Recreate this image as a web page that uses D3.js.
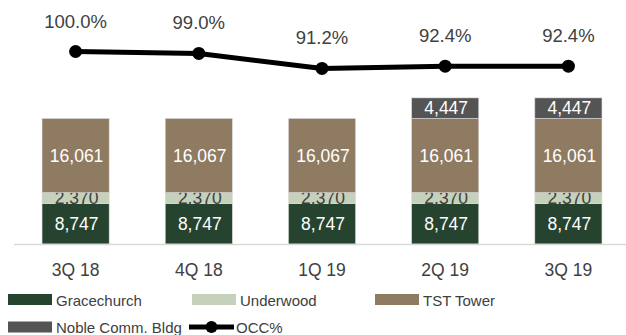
<!DOCTYPE html>
<html>
<head>
<meta charset="utf-8">
<script src="https://cdn.jsdelivr.net/npm/d3@7"></script>
<style>
  html, body { margin: 0; padding: 0; background: #fff; }
  svg { display: block; font-family: "Liberation Sans", Arial, sans-serif; }
</style>
</head>
<body>
<svg id="chart" width="626" height="335"></svg>
<script>
// ==================================
// Data
// ==================================
const quarters = ["3Q 18", "4Q 18", "1Q 19", "2Q 19", "3Q 19"];
const gracechurch = [8747, 8747, 8747, 8747, 8747];
const underwood = [2370, 2370, 2370, 2370, 2370];
const tstTower = [16061, 16067, 16067, 16061, 16061];
const noble = [0, 0, 0, 4447, 4447];
const occ = [1.0, 0.99, 0.912, 0.924, 0.924];

const seriesNames = ["Gracechurch", "Underwood", "TST Tower", "Noble Comm. Bldg"];
const seriesValues = [gracechurch, underwood, tstTower, noble];
const seriesColors = ["#264330", "#c5d1bb", "#8f7b61", "#545454"];
const labelColors = ["#ffffff", "#404040", "#ffffff", "#ffffff"];

const textColor = "#404040";

// ==================================
// Setting the Stage
// ==================================
const svg = d3.select("#chart");
const plot = { left: 14, right: 630, top: 13, bottom: 244 };

const x = d3.scaleBand()
  .domain(quarters)
  .range([plot.left, plot.right])
  .paddingInner(0.455)
  .paddingOuter(0.2275);

const y = d3.scaleLinear()
  .domain([0, 50000])
  .range([plot.bottom, plot.top]);

// secondary axis for occupancy
const yOcc = d3.scaleLinear()
  .domain([0, 1.2])
  .range([plot.bottom, plot.top]);

// build the stack table from the arrays
const table = quarters.map((q, i) => {
  const row = { quarter: q };
  seriesNames.forEach((s, j) => { row[s] = seriesValues[j][i]; });
  return row;
});
const stacked = d3.stack().keys(seriesNames)(table);

// ==================================
// Bars
// ==================================
const layers = svg.append("g").selectAll("g")
  .data(stacked)
  .enter().append("g")
  .attr("fill", (d, i) => seriesColors[i]);

layers.selectAll("rect")
  .data(d => d.filter(p => p[1] - p[0] > 0))
  .enter().append("rect")
  .attr("x", d => x(d.data.quarter))
  .attr("width", x.bandwidth())
  .attr("y", d => y(d[1]))
  .attr("height", d => y(d[0]) - y(d[1]))
  .attr("stroke", "#dcdcdc")
  .attr("stroke-width", 0.6);

// value labels in each segment
layers.each(function (layer, i) {
  d3.select(this).selectAll("text")
    .data(layer.filter(p => p[1] - p[0] > 0))
    .enter().append("text")
    .attr("x", d => x(d.data.quarter) + x.bandwidth() / 2 + 1)
    .attr("y", d => (y(d[0]) + y(d[1])) / 2)
    .attr("dy", "0.36em")
    .attr("text-anchor", "middle")
    .attr("fill", labelColors[i])
    .style("font-size", "17.5px")
    .text(d => d3.format(",")(d[1] - d[0]));
});

// ==================================
// Axis (bottom)
// ==================================
svg.append("line")
  .attr("x1", plot.left)
  .attr("x2", 626)
  .attr("y1", plot.bottom + 0.5)
  .attr("y2", plot.bottom + 0.5)
  .attr("stroke", "#d9d9d9")
  .attr("stroke-width", 1.5);

const xAxis = svg.append("g")
  .attr("transform", `translate(0, ${plot.bottom})`)
  .call(d3.axisBottom(x).tickSize(0).tickPadding(20));
xAxis.select(".domain").remove();
xAxis.selectAll("text")
  .attr("fill", textColor)
  .style("font-size", "17.5px")
  .style("font-family", "'Liberation Sans', Arial, sans-serif");

// ==================================
// OCC% line
// ==================================
const occLine = d3.line()
  .x((d, i) => x(quarters[i]) + x.bandwidth() / 2)
  .y(d => yOcc(d));

svg.append("path")
  .datum(occ)
  .attr("d", occLine)
  .attr("fill", "none")
  .attr("stroke", "#000")
  .attr("stroke-width", 5)
  .attr("stroke-linejoin", "round");

svg.append("g").selectAll("circle")
  .data(occ)
  .enter().append("circle")
  .attr("cx", (d, i) => x(quarters[i]) + x.bandwidth() / 2)
  .attr("cy", d => yOcc(d))
  .attr("r", 6.5)
  .attr("fill", "#000");

svg.append("g").selectAll("text")
  .data(occ)
  .enter().append("text")
  .attr("x", (d, i) => x(quarters[i]) + x.bandwidth() / 2)
  .attr("y", d => yOcc(d) - 24)
  .attr("text-anchor", "middle")
  .attr("fill", textColor)
  .style("font-size", "18.5px")
  .text(d => d3.format(".1%")(d));

// ==================================
// Legend
// ==================================
const legendItems = [
  { name: seriesNames[0], color: seriesColors[0], type: "rect", x: 8, row: 0 },
  { name: seriesNames[1], color: seriesColors[1], type: "rect", x: 192, row: 0 },
  { name: seriesNames[2], color: seriesColors[2], type: "rect", x: 375, row: 0 },
  { name: seriesNames[3], color: seriesColors[3], type: "rect", x: 8, row: 1 },
  { name: "OCC%", color: "#000", type: "line", x: 189, row: 1 }
];

const legend = svg.append("g").selectAll("g")
  .data(legendItems)
  .enter().append("g")
  .attr("transform", d => `translate(${d.x}, ${294 + d.row * 27.5})`);

legend.filter(d => d.type === "rect").append("rect")
  .attr("width", 44)
  .attr("height", 11)
  .attr("fill", d => d.color);

legend.filter(d => d.type === "line").append("line")
  .attr("x1", 0).attr("x2", 45)
  .attr("y1", 5.5).attr("y2", 5.5)
  .attr("stroke", "#000")
  .attr("stroke-width", 5);

legend.filter(d => d.type === "line").append("circle")
  .attr("cx", 22.5).attr("cy", 5.5)
  .attr("r", 6)
  .attr("fill", "#000");

legend.append("text")
  .attr("x", d => d.type === "line" ? 47 : 48)
  .attr("y", 11.5)
  .attr("fill", textColor)
  .style("font-size", "15px")
  .text(d => d.name);
</script>
</body>
</html>
